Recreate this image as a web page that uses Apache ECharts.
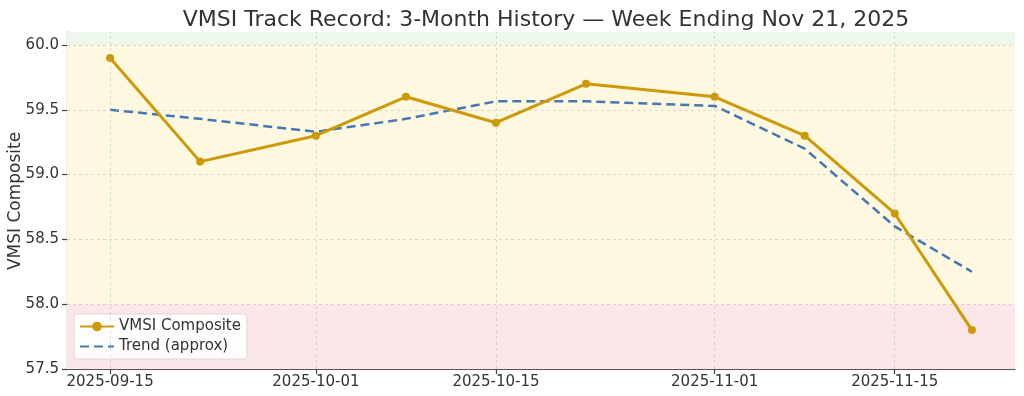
<!DOCTYPE html>
<html><head><meta charset="utf-8">
<script src="https://cdn.jsdelivr.net/npm/echarts@6/dist/echarts.min.js"></script>
<style>html,body{margin:0;padding:0;background:#fff}#c{width:1024px;height:396px}</style>
</head><body><div id="c"></div>
<script>
const dates = ['2025-09-15','2025-09-22','2025-10-01','2025-10-08','2025-10-15','2025-10-22','2025-11-01','2025-11-08','2025-11-15','2025-11-21'];
const vmsi = [59.9, 59.1, 59.3, 59.6, 59.4, 59.7, 59.6, 59.3, 58.7, 57.8];
const trend = [59.5, 59.43, 59.33, 59.43, 59.565, 59.565, 59.53, 59.2, 58.6, 58.25];
const xTicks = ['2025-09-15','2025-10-01','2025-10-15','2025-11-01','2025-11-15'];
const yTicks = [57.5, 58.0, 58.5, 59.0, 59.5, 60.0];
const yName = 'VMSI Composite';

const t = s => new Date(s + 'T00:00:00Z').getTime();
const t0 = t(dates[0]), t1 = t(dates[dates.length-1]);
const pad = (t1 - t0) * 0.05;
const fmt = v => { const d = new Date(v); return d.getUTCFullYear() + '-' + String(d.getUTCMonth()+1).padStart(2,'0') + '-' + String(d.getUTCDate()).padStart(2,'0'); };
const font = 'DejaVu Sans';

const chart = echarts.init(document.getElementById('c'), null, {renderer:'canvas'});
chart.setOption({
  animation: false,
  title: { text: 'VMSI Track Record: 3-Month History — Week Ending Nov 21, 2025', left: 541, top: 4, textAlign: 'center',
    textStyle: { fontFamily: font, fontSize: 22, fontWeight: 'normal', color: '#333' } },
  grid: { left: 67, right: 9, top: 32, bottom: 27, containLabel: false, outerBoundsMode: 'none' },
  graphic: [{
    type: 'text', x: 16, y: 201, rotation: Math.PI / 2,
    style: { text: yName, fontFamily: font, fontSize: 17, fill: '#333', align: 'center', verticalAlign: 'middle' }
  }],
  legend: {
    orient: 'vertical', left: 74, top: 314, itemGap: 5, itemWidth: 34, itemHeight: 12,
    backgroundColor: 'rgba(255,255,255,0.85)', borderColor: '#d8d8d8', borderWidth: 1, borderRadius: 3,
    padding: [5, 6, 5, 5],
    textStyle: { fontFamily: font, fontSize: 15, color: '#333' },
    data: [{ name: 'VMSI Composite' }, { name: 'Trend (approx)', itemStyle: { opacity: 0 } }]
  },
  xAxis: {
    type: 'value', min: t0 - pad, max: t1 + pad,
    axisLine: { show: true, onZero: false, lineStyle: { color: '#555', width: 1.2 } },
    axisTick: { show: true, inside: false, length: 5, lineStyle: { color: '#444', width: 1.2 }, customValues: xTicks.map(t) },
    axisLabel: { fontFamily: font, fontSize: 15, color: '#333', margin: 6, customValues: xTicks.map(t), formatter: v => fmt(v) },
    splitLine: { show: false }
  },
  yAxis: {
    type: 'value', min: 57.5, max: 60.1, interval: 0.5,
    axisLine: { show: true, onZero: false, lineStyle: { color: '#555', width: 1.2 } },
    axisTick: { show: true, inside: false, length: 5, lineStyle: { color: '#444', width: 1.2 } },
    axisLabel: { fontFamily: font, fontSize: 15, color: '#333', margin: 8, showMaxLabel: false, formatter: v => v.toFixed(1) },
    splitLine: { show: false }
  },
  series: [
    {
      name: 'bands', type: 'line', data: [], silent: true,
      markArea: { silent: true, data: [
        [{ yAxis: 60.0, itemStyle: { color: '#edf7ec' } }, { yAxis: 60.1 }],
        [{ yAxis: 58.0, itemStyle: { color: '#fef8e1' } }, { yAxis: 60.0 }],
        [{ yAxis: 57.5, itemStyle: { color: '#fbe7e7' } }, { yAxis: 58.0 }]
      ] },
      markLine: { silent: true, symbol: 'none', label: { show: false },
        lineStyle: { type: [3, 3], color: 'rgba(170,170,170,0.4)', width: 1 },
        data: xTicks.map(d => ({ xAxis: t(d) })).concat(yTicks.slice(1).map(v => ({ yAxis: v }))) }
    },
    {
      name: 'VMSI Composite', type: 'line', data: dates.map((d, i) => [t(d), vmsi[i]]),
      symbol: 'circle', symbolSize: 8, showAllSymbol: true,
      lineStyle: { color: '#cc9a06', width: 3 }, itemStyle: { color: '#cc9a06' }, z: 4
    },
    {
      name: 'Trend (approx)', type: 'line', data: dates.map((d, i) => [t(d), trend[i]]),
      symbol: 'none',
      lineStyle: { color: '#4477b4', width: 2.5, type: [9, 5] }, itemStyle: { color: '#4477b4' }, z: 3
    }
  ]
});
</script></body></html>
